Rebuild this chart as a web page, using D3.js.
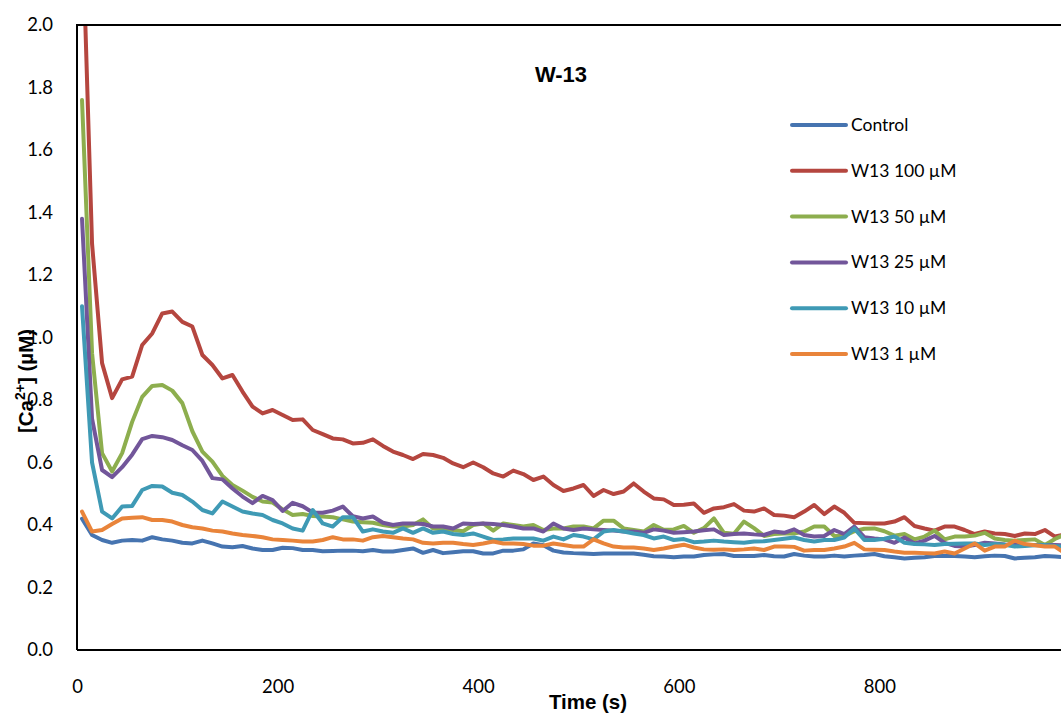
<!DOCTYPE html>
<html>
<head>
<meta charset="utf-8">
<script src="https://cdn.jsdelivr.net/npm/d3@7"></script>
<style>
  body { margin: 0; background: #fff; }
  svg { display: block; font-family: Lato, "Liberation Sans", sans-serif; }
  .bold { font-family: "Liberation Sans", Arial, sans-serif; font-weight: bold; }
</style>
</head>
<body>
<script>
// sample times (s)
const times = [5,15,25,35,45,55,65,75,85,95,105,115,125,135,145,155,165,175,185,195,
  205,215,225,235,245,255,265,275,285,295,305,315,325,335,345,355,365,375,385,395,
  405,415,425,435,445,455,465,475,485,495,505,515,525,535,545,555,565,575,585,595,
  605,615,625,635,645,655,665,675,685,695,705,715,725,735,745,755,765,775,785,795,
  805,815,825,835,845,855,865,875,885,895,905,915,925,935,945,955,965,975,985];

const control = [0.42,0.368,0.352,0.343,0.35,0.352,0.35,0.361,0.354,0.35,
  0.343,0.341,0.35,0.341,0.331,0.329,0.333,0.325,0.32,0.32,
  0.327,0.326,0.32,0.32,0.316,0.317,0.318,0.318,0.316,0.32,
  0.315,0.315,0.32,0.325,0.311,0.32,0.31,0.313,0.316,0.316,
  0.309,0.309,0.318,0.318,0.322,0.341,0.335,0.318,0.312,0.31,
  0.309,0.307,0.309,0.309,0.309,0.309,0.305,0.3,0.299,0.297,
  0.299,0.299,0.304,0.306,0.307,0.301,0.301,0.301,0.304,0.3,
  0.299,0.307,0.302,0.299,0.299,0.302,0.299,0.302,0.304,0.307,
  0.3,0.297,0.293,0.295,0.297,0.301,0.301,0.301,0.299,0.297,
  0.3,0.302,0.301,0.293,0.295,0.297,0.301,0.299,0.297];

const w13_100 = [2.35,1.30,0.918,0.806,0.866,0.875,0.976,1.013,1.077,1.083,
  1.05,1.035,0.944,0.912,0.869,0.88,0.827,0.779,0.757,0.768,
  0.752,0.736,0.738,0.704,0.691,0.677,0.674,0.661,0.663,0.674,
  0.653,0.635,0.624,0.611,0.627,0.624,0.615,0.597,0.585,0.6,
  0.585,0.565,0.555,0.574,0.563,0.544,0.555,0.528,0.509,0.517,
  0.528,0.493,0.512,0.499,0.507,0.533,0.507,0.485,0.482,0.464,
  0.465,0.469,0.439,0.453,0.457,0.467,0.446,0.443,0.453,0.432,
  0.43,0.425,0.443,0.464,0.435,0.459,0.439,0.407,0.406,0.405,
  0.405,0.411,0.425,0.397,0.389,0.382,0.395,0.395,0.384,0.371,
  0.379,0.373,0.371,0.365,0.373,0.371,0.384,0.363,0.37];

const w13_50 = [1.76,0.95,0.63,0.571,0.63,0.73,0.81,0.845,0.848,0.83,
  0.79,0.70,0.635,0.603,0.557,0.528,0.51,0.49,0.475,0.472,
  0.45,0.432,0.435,0.429,0.427,0.425,0.418,0.411,0.409,0.407,
  0.4,0.395,0.395,0.4,0.418,0.389,0.386,0.384,0.38,0.4,
  0.405,0.382,0.405,0.4,0.395,0.4,0.384,0.389,0.389,0.395,
  0.395,0.389,0.414,0.414,0.389,0.384,0.379,0.4,0.385,0.386,
  0.397,0.375,0.39,0.421,0.375,0.372,0.411,0.39,0.365,0.371,
  0.373,0.373,0.379,0.395,0.395,0.365,0.365,0.38,0.388,0.389,
  0.38,0.366,0.371,0.354,0.363,0.382,0.354,0.363,0.363,0.366,
  0.375,0.357,0.352,0.35,0.352,0.354,0.336,0.355,0.37];

const w13_25 = [1.38,0.74,0.576,0.553,0.585,0.625,0.675,0.685,0.681,0.672,
  0.655,0.64,0.605,0.55,0.546,0.517,0.491,0.47,0.493,0.48,
  0.445,0.471,0.46,0.44,0.439,0.446,0.459,0.428,0.421,0.427,
  0.407,0.4,0.405,0.405,0.403,0.395,0.395,0.389,0.405,0.403,
  0.405,0.403,0.4,0.395,0.389,0.389,0.379,0.405,0.389,0.384,
  0.389,0.386,0.384,0.382,0.379,0.379,0.375,0.386,0.382,0.375,
  0.377,0.379,0.383,0.386,0.368,0.371,0.373,0.37,0.368,0.379,
  0.375,0.386,0.368,0.363,0.365,0.384,0.371,0.395,0.361,0.357,
  0.354,0.343,0.36,0.341,0.35,0.365,0.343,0.333,0.331,0.336,
  0.343,0.341,0.338,0.336,0.336,0.336,0.336,0.336,0.335];

const w13_10 = [1.10,0.60,0.443,0.421,0.459,0.461,0.512,0.525,0.523,0.503,
  0.496,0.475,0.448,0.437,0.475,0.459,0.443,0.437,0.432,0.416,
  0.405,0.389,0.382,0.448,0.405,0.395,0.425,0.425,0.379,0.386,
  0.379,0.375,0.389,0.375,0.389,0.375,0.379,0.371,0.368,0.373,
  0.363,0.352,0.354,0.357,0.357,0.357,0.35,0.363,0.354,0.368,
  0.363,0.354,0.379,0.384,0.379,0.373,0.368,0.357,0.363,0.352,
  0.355,0.345,0.347,0.35,0.347,0.345,0.343,0.347,0.348,0.352,
  0.356,0.36,0.352,0.347,0.352,0.352,0.36,0.389,0.352,0.352,
  0.356,0.363,0.343,0.339,0.338,0.336,0.339,0.34,0.341,0.341,
  0.336,0.339,0.337,0.331,0.333,0.335,0.336,0.333,0.33];

const w13_1 = [0.443,0.379,0.384,0.403,0.421,0.423,0.425,0.416,0.416,0.411,
  0.4,0.393,0.389,0.382,0.379,0.373,0.368,0.365,0.361,0.354,
  0.352,0.35,0.347,0.347,0.352,0.361,0.354,0.354,0.35,0.361,
  0.365,0.361,0.357,0.354,0.343,0.341,0.343,0.343,0.339,0.336,
  0.341,0.347,0.341,0.341,0.339,0.334,0.334,0.341,0.336,0.331,
  0.331,0.354,0.341,0.331,0.328,0.328,0.325,0.32,0.325,0.331,
  0.337,0.328,0.322,0.321,0.322,0.32,0.322,0.325,0.32,0.331,
  0.331,0.33,0.318,0.32,0.32,0.325,0.331,0.343,0.322,0.321,
  0.32,0.315,0.311,0.311,0.31,0.309,0.315,0.309,0.325,0.341,
  0.318,0.331,0.331,0.35,0.339,0.335,0.331,0.331,0.31];

const seriesNames = ["Control", "W13 100 µM", "W13 50 µM", "W13 25 µM", "W13 10 µM", "W13 1 µM"];
const seriesValues = [control, w13_100, w13_50, w13_25, w13_10, w13_1];
const seriesColors = ["#4674B0", "#B5463F", "#8DAE4E", "#72569A", "#3F9AB5", "#E9843A"];

const yTicks = [0, 0.2, 0.4, 0.6, 0.8, 1.0, 1.2, 1.4, 1.6, 1.8, 2.0];
const xTicks = [0, 200, 400, 600, 800];

// canvas + plot area
const width = 1061;
const height = 717;
const plot = {left: 77, top: 25, bottom: 650, right: 1080};

const svg = d3.select('body')
  .append('svg')
  .attr('width', width)
  .attr('height', height);

svg.append('rect')
  .attr('width', width)
  .attr('height', height)
  .attr('fill', '#fff');

const x = d3.scaleLinear().domain([0, 1000]).range([plot.left, plot.right]);
const y = d3.scaleLinear().domain([0, 2]).range([plot.bottom, plot.top]);

svg.append('defs').append('clipPath')
  .attr('id', 'plotClip')
  .append('rect')
  .attr('x', plot.left)
  .attr('y', plot.top)
  .attr('width', plot.right - plot.left)
  .attr('height', plot.bottom - plot.top);

// y axis labels (no tick marks)
const yAxis = svg.append('g')
  .attr('transform', `translate(${plot.left},0)`)
  .call(d3.axisLeft(y).tickValues(yTicks).tickFormat(d3.format('.1f')).tickSize(0).tickPadding(24));
yAxis.select('.domain').remove();
yAxis.selectAll('text').attr('font-size', 18.5).attr('font-family', 'Lato, sans-serif').attr('fill', '#000');

// x axis labels
const xAxis = svg.append('g')
  .attr('transform', `translate(0,${plot.bottom})`)
  .call(d3.axisBottom(x).tickValues(xTicks).tickFormat(d3.format('d')).tickSize(0).tickPadding(30));
xAxis.select('.domain').remove();
xAxis.selectAll('text').attr('font-size', 18.5).attr('font-family', 'Lato, sans-serif').attr('fill', '#000');

// series lines
const line = d3.line()
  .x((d, i) => x(times[i]))
  .y((d) => y(d));

svg.append('g')
  .attr('clip-path', 'url(#plotClip)')
  .selectAll('path')
  .data(seriesValues)
  .join('path')
  .attr('d', line)
  .attr('fill', 'none')
  .attr('stroke', (d, i) => seriesColors[i])
  .attr('stroke-width', 4)
  .attr('stroke-linejoin', 'round')
  .attr('stroke-linecap', 'round');

// plot frame: left, top, bottom
svg.append('path')
  .attr('d', `M${plot.left},${plot.bottom}V${plot.top}H${width + 5}`)
  .attr('fill', 'none')
  .attr('stroke', '#000')
  .attr('stroke-width', 2);
svg.append('line')
  .attr('x1', plot.left).attr('x2', width + 5)
  .attr('y1', plot.bottom).attr('y2', plot.bottom)
  .attr('stroke', '#000')
  .attr('stroke-width', 2);

// titles
svg.append('text')
  .attr('class', 'bold')
  .attr('x', 561).attr('y', 82)
  .attr('text-anchor', 'middle')
  .attr('font-size', 22)
  .text('W-13');

svg.append('text')
  .attr('class', 'bold')
  .attr('x', 588).attr('y', 709)
  .attr('text-anchor', 'middle')
  .attr('font-size', 20.5)
  .text('Time (s)');

const yTitle = svg.append('text')
  .attr('class', 'bold')
  .attr('transform', 'translate(33,381) rotate(-90)')
  .attr('text-anchor', 'middle')
  .attr('font-size', 20.5);
yTitle.append('tspan').text('[Ca');
yTitle.append('tspan').attr('dy', -8).attr('font-size', 14).text('2+');
yTitle.append('tspan').attr('dy', 8).text('] (µM)');

// legend
const legend = svg.append('g')
  .selectAll('g')
  .data(seriesNames)
  .join('g')
  .attr('transform', (d, i) => `translate(792,${125 + i * 45.8})`);

legend.append('line')
  .attr('x1', 0).attr('x2', 54)
  .attr('stroke', (d, i) => seriesColors[i])
  .attr('stroke-width', 4)
  .attr('stroke-linecap', 'round');

legend.append('text')
  .attr('x', 59).attr('y', 6)
  .attr('font-size', 17.5)
  .text((d) => d);
</script>
</body>
</html>
